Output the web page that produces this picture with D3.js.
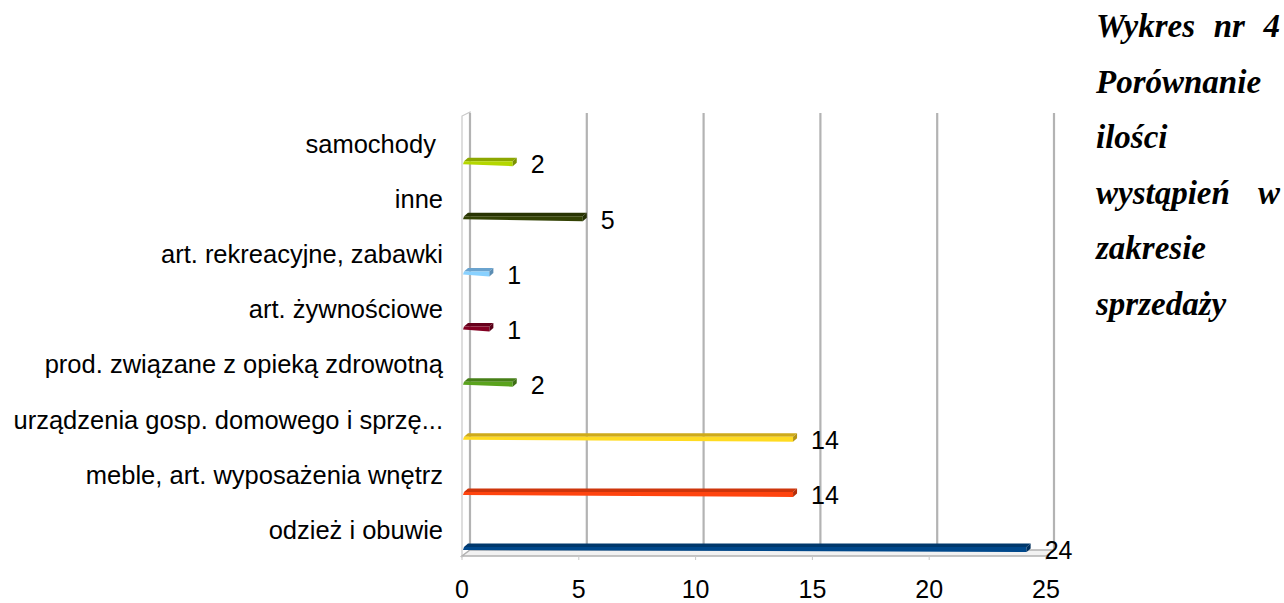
<!DOCTYPE html>
<html>
<head>
<meta charset="utf-8">
<script src="https://cdn.jsdelivr.net/npm/d3@7/dist/d3.min.js"></script>
<style>
  html, body { margin: 0; padding: 0; background: #ffffff; }
  svg { display: block; }
  text { white-space: pre; }
</style>
</head>
<body>
<svg id="chart" width="1284" height="603"></svg>
<script>
// Categories listed top to bottom as they appear on the vertical axis
const categories = [
  "samochody ",
  "inne",
  "art. rekreacyjne, zabawki",
  "art. żywnościowe",
  "prod. związane z opieką zdrowotną",
  "urządzenia gosp. domowego i sprzę...",
  "meble, art. wyposażenia wnętrz",
  "odzież i obuwie"
];
const values = [2, 5, 1, 1, 2, 14, 14, 24];
const barColors = ["#aecf00", "#314004", "#83caff", "#7e0021", "#579d1c", "#ffd320", "#ff420e", "#004586"];
const xTicks = [0, 5, 10, 15, 20, 25];
const titleLines = ["Wykres nr 4", "Porównanie", "ilości", "wystąpień w", "zakresie", "sprzedaży"];
const justifiedLines = [true, false, false, true, false, false];

const svg = d3.select("#chart");

// Back wall scale and front (floor edge) scale of the 3D box
const xBack = d3.scaleLinear().domain([0, 25]).range([470, 1054]);
const xFront = d3.scaleLinear().domain([0, 25]).range([462, 1046]);
const wallTop = 113, wallBottom = 550, floorFront = 556;

const y = d3.scaleBand().domain(categories).range([116.5, 557.5]);
const barOffset = 18.6;

const grid = svg.append("g");

// left side wall
grid.append("path")
  .attr("d", `M${xBack(0)},${wallTop - 1} L${xFront(0)},${wallTop + 3} L${xFront(0)},${floorFront + 1} L${xBack(0)},${wallBottom} Z`)
  .attr("fill", "#ffffff").attr("stroke", "#c8c8c8").attr("stroke-width", 1.2);

// floor
grid.append("path")
  .attr("d", `M${xBack(0)},${wallBottom} L${xBack(25)},${wallBottom} L${xFront(25)},${floorFront} L${xFront(0)},${floorFront} Z`)
  .attr("fill", "#f2f2f2").attr("stroke", "#b3b3b3").attr("stroke-width", 1.5);

// vertical grid lines on the back wall
grid.selectAll("line.grid").data(xTicks).join("line")
  .attr("class", "grid")
  .attr("x1", d => xBack(d)).attr("x2", d => xBack(d))
  .attr("y1", wallTop).attr("y2", wallBottom)
  .attr("stroke", "#b3b3b3").attr("stroke-width", 2.2);

// small ticks under the floor edge
grid.selectAll("line.tick").data(xTicks).join("line")
  .attr("class", "tick")
  .attr("x1", d => xFront(d)).attr("x2", d => xFront(d))
  .attr("y1", floorFront).attr("y2", floorFront + 4)
  .attr("stroke", "#c8c8c8").attr("stroke-width", 1);

// x axis labels
svg.append("g").selectAll("text").data(xTicks).join("text")
  .attr("x", d => xFront(d)).attr("y", 589)
  .attr("dy", "0.35em")
  .attr("text-anchor", "middle")
  .attr("font-family", "Liberation Sans, Arial, sans-serif")
  .attr("font-size", 25)
  .attr("fill", "#000")
  .text(d => d);

// category labels
svg.append("g").selectAll("text").data(categories).join("text")
  .attr("x", 443)
  .attr("y", d => y(d) + y.bandwidth() / 2)
  .attr("dy", "0.35em")
  .attr("text-anchor", "end")
  .attr("font-family", "Liberation Sans, Arial, sans-serif")
  .attr("font-size", 25.5)
  .attr("fill", "#000")
  .text(d => d);

// thin 3D bars: front face, top face and end cap
const depthX = 4, depthY = 3.5, faceH = 5;
const bars = svg.append("g").selectAll("g").data(categories).join("g");
bars.each(function (d, i) {
  const g = d3.select(this);
  const yc = y(d) + y.bandwidth() / 2 + barOffset;
  const x0 = xFront(0) + 2;
  const x1 = xBack(values[i]) - depthX;
  const top = yc - 1.5;
  const c = d3.color(barColors[i]);
  g.append("path")
    .attr("d", `M${x0},${top} L${x0 + depthX},${top - depthY} L${x1 + depthX},${top - depthY} L${x1},${top} Z`)
    .attr("fill", c.darker(0.6));
  g.append("path")
    .attr("d", `M${x0},${top} L${x1},${top} L${x1},${top + faceH} L${x0 - 1},${top + faceH * 0.6} Z`)
    .attr("fill", c.brighter(0.1));
  g.append("path")
    .attr("d", `M${x1},${top} L${x1 + depthX},${top - depthY} L${x1 + depthX},${top - depthY + faceH} L${x1},${top + faceH} Z`)
    .attr("fill", c.darker(1));
});

// value labels
svg.append("g").selectAll("text").data(categories).join("text")
  .attr("x", (d, i) => xBack(values[i]) + 14)
  .attr("y", d => y(d) + y.bandwidth() / 2 + barOffset + 2)
  .attr("dy", "0.35em")
  .attr("font-family", "Liberation Sans, Arial, sans-serif")
  .attr("font-size", 25)
  .attr("fill", "#000")
  .text((d, i) => values[i]);

// caption on the right, justified lines spread across the column
const capLeft = 1096, capRight = 1280, capTop = 37, capStep = 55.5;
const cap = svg.append("g")
  .attr("font-family", "Liberation Serif, Times New Roman, serif")
  .attr("font-weight", "bold")
  .attr("font-style", "italic")
  .attr("font-size", 33)
  .attr("fill", "#000");
titleLines.forEach((line, li) => {
  const yy = capTop + li * capStep;
  if (!justifiedLines[li]) {
    cap.append("text").attr("x", capLeft).attr("y", yy).text(line);
    return;
  }
  const words = line.split(" ");
  const nodes = words.map(w => cap.append("text").attr("y", yy).text(w));
  const widths = nodes.map(n => n.node().getComputedTextLength());
  const total = d3.sum(widths);
  const gap = (capRight - capLeft - total) / (words.length - 1);
  let x = capLeft;
  nodes.forEach((n, k) => { n.attr("x", x); x += widths[k] + gap; });
});
</script>
</body>
</html>
